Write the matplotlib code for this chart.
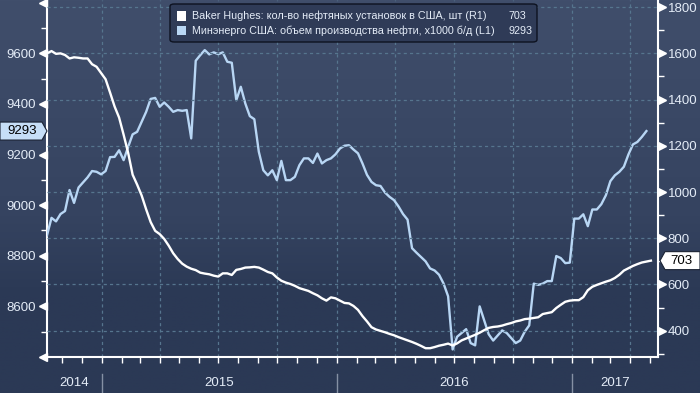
import matplotlib
matplotlib.use('Agg')
import matplotlib.pyplot as plt
import matplotlib.transforms as mtransforms
import matplotlib.dates as mdates
from matplotlib.patches import Polygon, FancyBboxPatch, Rectangle
from matplotlib.lines import Line2D
import numpy as np
import pandas as pd

plt.rcParams['font.family'] = ['Liberation Sans', 'DejaVu Sans']

# ---------------- data (weekly) ----------------
rig_count = [1600, 1610, 1598, 1600, 1593, 1578, 1583, 1581, 1578, 1578,
             1553, 1542, 1515, 1488, 1430, 1370, 1322, 1248, 1170, 1075,
             1032, 985, 925, 870, 832, 818, 797, 768, 735, 710,
             690, 677, 668, 662, 651, 647, 644, 638, 634, 648,
             648, 641, 663, 667, 673, 674, 676, 673, 664, 654,
             648, 630, 616, 608, 602, 594, 584, 578, 572, 562,
             553, 540, 530, 544, 540, 530, 520, 518, 507, 490,
             463, 440, 415, 405, 399, 393, 386, 380, 372, 365,
             358, 351, 343, 334, 324, 324, 329, 335, 339, 344,
             336, 345, 358, 366, 374, 382, 391, 402, 412, 416,
             418, 422, 428, 433, 440, 444, 450, 452, 455, 458,
             472, 476, 480, 498, 512, 525, 530, 532, 532, 545,
             575, 590, 598, 605, 612, 618, 628, 642, 660, 670,
             680, 688, 695, 699, 703]

oil_production = [8881, 8950, 8936, 8965, 8977, 9060, 9009, 9070, 9090, 9110,
                  9135, 9132, 9122, 9135, 9190, 9191, 9217, 9178, 9230, 9280,
                  9290, 9329, 9369, 9420, 9424, 9389, 9406, 9389, 9369, 9376,
                  9373, 9376, 9264, 9571, 9593, 9613, 9596, 9604, 9597, 9604,
                  9567, 9563, 9415, 9468, 9402, 9352, 9340, 9211, 9138, 9118,
                  9138, 9099, 9175, 9099, 9099, 9112, 9158, 9185, 9185, 9167,
                  9204, 9165, 9178, 9185, 9201, 9224, 9235, 9237, 9220, 9205,
                  9165, 9120, 9092, 9079, 9076, 9050, 9033, 9020, 8995, 8965,
                  8943, 8830, 8812, 8795, 8778, 8750, 8742, 8725, 8690, 8640,
                  8430, 8480, 8495, 8510, 8455, 8446, 8600, 8545, 8490, 8465,
                  8485, 8505, 8495, 8475, 8455, 8465, 8500, 8525, 8690, 8685,
                  8690, 8700, 8700, 8799, 8791, 8771, 8773, 8947, 8947, 8964,
                  8917, 8983, 8983, 9004, 9039, 9095, 9118, 9132, 9152, 9200,
                  9240, 9250, 9270, 9293]

rig_dates = pd.date_range('2014-10-08', periods=len(rig_count), freq='7D')
prod_dates = rig_dates[:len(oil_production)]

years = ['2014', '2015', '2016', '2017']
legend_labels = ['Baker Hughes: кол-во нефтяных установок в США, шт (R1)',
                 'Минэнерго США: объем производства нефти, x1000 б/д (L1)']
last_rig = rig_count[-1]
last_prod = oil_production[-1]

# ---------------- styles ----------------
W, H = 700, 393
WHITE = '#ffffff'
BLUE = '#b8d6f4'
TXT = '#e4ecf7'
GRID = '#56758e'

fig = plt.figure(figsize=(7, 3.93), dpi=100)

# gradient background
bg = fig.add_axes([0, 0, 1, 1], zorder=-10)
top = np.array([0x40, 0x4e, 0x6b]) / 255
mid = np.array([0x35, 0x43, 0x60]) / 255
bot = np.array([0x2b, 0x39, 0x55]) / 255
t = np.linspace(0, 1, 256)[:, None]
grad = np.where(t < 0.55, top + (mid - top) * (t / 0.55), mid + (bot - mid) * ((t - 0.55) / 0.2).clip(0, 1))
bg.imshow(grad[:, None, :].repeat(2, axis=1), aspect='auto', extent=[0, 1, 0, 1], origin='upper')
bg.set_axis_off()

L, R, B, T = 47, 658, 357, 0
ax = fig.add_axes([L / W, 1 - B / H, (R - L) / W, (B - T) / H])
ax.patch.set_alpha(0)
ax2 = ax.twinx()
ax2.patch.set_alpha(0)

xmin, xmax = pd.Timestamp('2014-10-08'), pd.Timestamp('2017-05-14')
ax.set_xlim(xmin, xmax)
ax.set_ylim(8400, 9811)
ax2.set_ylim(286, 1831)

# gridlines
for v in range(400, 1801, 200):
    ax2.axhline(v, color=GRID, lw=0.9, ls=(0, (2.5, 2.5)), zorder=0)
for d in pd.date_range('2014-10-01', '2017-05-01', freq='QS'):
    if xmin <= d <= xmax:
        ax.axvline(d, color=GRID, lw=0.9, ls=(0, (2.5, 2.5)), zorder=0)

ax.plot(prod_dates, oil_production, color=BLUE, lw=1.7, zorder=3, solid_joinstyle='round')
ax2.plot(rig_dates, rig_count, color=WHITE, lw=1.7, zorder=3, solid_joinstyle='round')

# spines
for a in (ax, ax2):
    for s in a.spines.values():
        s.set_visible(False)
ax.spines['left'].set_visible(True)
ax.spines['left'].set_color(WHITE)
ax.spines['left'].set_linewidth(1.5)
ax.spines['bottom'].set_visible(True)
ax.spines['bottom'].set_color(WHITE)
ax.spines['bottom'].set_linewidth(1.5)
ax2.spines['right'].set_visible(True)
ax2.spines['right'].set_color(WHITE)
ax2.spines['right'].set_linewidth(1.5)

# x ticks: monthly
ax.xaxis.set_major_locator(mdates.MonthLocator())
ax.xaxis.set_major_formatter(plt.NullFormatter())
ax.tick_params(axis='x', which='major', direction='out', length=4, width=1, color=WHITE)

# left ticks
left_major = list(range(8400, 9801, 200))
ax.set_yticks(left_major)
ax.set_yticklabels(['' if v in (8400, 9800) else str(v) for v in left_major])
ax.set_yticks(list(range(8500, 9801, 200)), minor=True)
ax.tick_params(axis='y', which='major', length=0, pad=8, labelsize=9.5, labelcolor=TXT)
ax.tick_params(axis='y', which='minor', direction='out', length=4, width=1, color=WHITE)

# right ticks
right_major = list(range(400, 1801, 200))
ax2.set_yticks(right_major)
ax2.set_yticklabels([str(v) for v in right_major])
ax2.set_yticks(list(range(300, 1801, 200)), minor=True)
ax2.tick_params(axis='y', which='major', length=0, pad=7, labelsize=9.5, labelcolor=TXT)
ax2.tick_params(axis='y', which='minor', direction='out', length=4, width=1, color=WHITE)

# triangle flags on major ticks
tl = mtransforms.blended_transform_factory(ax.transAxes, ax.transData) + \
    mtransforms.ScaledTranslation(-0.04, 0, fig.dpi_scale_trans)
ax.plot([0] * len(left_major), left_major, ls='none', marker='<', ms=6, color=WHITE,
        transform=tl, clip_on=False)
tr = mtransforms.blended_transform_factory(ax2.transAxes, ax2.transData) + \
    mtransforms.ScaledTranslation(0.04, 0, fig.dpi_scale_trans)
ax2.plot([1] * len(right_major), right_major, ls='none', marker='>', ms=6, color=WHITE,
         transform=tr, clip_on=False)

# year labels and separators
def xpix(d):
    return ax.transData.transform((mdates.date2num(pd.Timestamp(d)), 0))[0]

bounds = [xmin] + [pd.Timestamp(f'{y}-01-01') for y in years[1:]] + [xmax]
for i, y in enumerate(years):
    xa, xb = xpix(bounds[i]), xpix(bounds[i + 1])
    fig.text((xa + xb) / 2 / W, 1 - 383 / H, y, ha='center', va='center', color=TXT, fontsize=9.5)
    if i > 0:
        fig.add_artist(Line2D([xa / W, xa / W], [1 - 374 / H, 0], color='#8590a4', lw=1,
                              transform=fig.transFigure))

# value tags
def ypix(axis, v):
    return axis.transData.transform((0, v))[1]

yp = ypix(ax, last_prod)
h = 9
tag_l = Polygon([(0, yp - h), (42, yp - h), (47, yp), (42, yp + h), (0, yp + h)],
                closed=True, facecolor='#c6def7', edgecolor='#1a2233', lw=0.8,
                transform=mtransforms.IdentityTransform(), zorder=5)
fig.add_artist(tag_l)
fig.text(22 / W, yp / H, str(last_prod), ha='center', va='center', fontsize=9.5, color='black', zorder=6)

yr = ypix(ax2, last_rig)
tag_r = Polygon([(660, yr), (665, yr - h), (700, yr - h), (700, yr + h), (665, yr + h)],
                closed=True, facecolor='#ffffff', edgecolor='#1a2233', lw=0.8,
                transform=mtransforms.IdentityTransform(), zorder=5)
fig.add_artist(tag_r)
fig.text(681 / W, yr / H, str(last_rig), ha='center', va='center', fontsize=9.5, color='black', zorder=6)

# legend box
def fx(x):
    return x / W

def fy(y):
    return 1 - y / H

box = FancyBboxPatch((fx(170), fy(42)), fx(537) - fx(170), fy(4) - fy(42),
                     boxstyle='round,pad=0,rounding_size=0.006', transform=fig.transFigure,
                     facecolor='#2f3b57', edgecolor='#0d1220', lw=1.0, zorder=7)
fig.add_artist(box)
for j, (lab, col, val, vx) in enumerate([(legend_labels[0], WHITE, last_rig, 508),
                                        (legend_labels[1], BLUE, last_prod, 508)]):
    yc = 16 + j * 14.5
    fig.add_artist(Rectangle((fx(177), fy(yc + 4.5)), 9 / W, 9 / H, transform=fig.transFigure,
                             facecolor=col, edgecolor='none', zorder=8))
    fig.text(fx(192), fy(yc), lab, ha='left', va='center', color=TXT, fontsize=7.75, zorder=8)
    fig.text(fx(vx), fy(yc), str(val), ha='left', va='center', color=TXT, fontsize=7.75, zorder=8)

fig.savefig('out.png', dpi=100)
